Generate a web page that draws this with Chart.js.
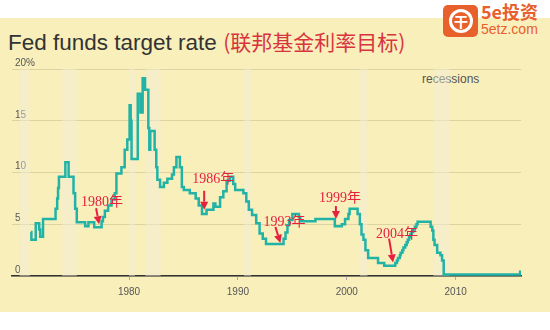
<!DOCTYPE html>
<html>
<head>
<meta charset="utf-8">
<script src="https://cdn.jsdelivr.net/npm/chart.js@4.4.1/dist/chart.umd.min.js"></script>
<style>
  html, body { margin: 0; padding: 0; background: #fff; }
  #wrap { position: relative; width: 550px; height: 330px; overflow: hidden; }
  #panel { position: absolute; left: 0; top: 18px; width: 550px; height: 294px; background: #f8efbb; }
  #title { position: absolute; left: 8px; top: 31px; font-family: "Liberation Sans", Arial, sans-serif; font-size: 22.5px; color: #333; white-space: nowrap; line-height: 1; }
  #title span { font-family: "Noto Sans CJK SC", sans-serif; font-size: 21px; color: #d8343f; }
  #recess { position: absolute; left: 422px; top: 72px; font-family: "Liberation Sans", Arial, sans-serif; font-size: 12px; color: #555; }
  #logo { position: absolute; left: 443px; top: 5px; width: 35px; height: 32px; background: #e8602c; border-radius: 5px; }
  #logo div { position: absolute; left: 6px; top: 4px; width: 18px; height: 18px; border: 3px solid #fff; border-radius: 50%;
    color: #fff; font: bold 14px "Noto Sans CJK SC", sans-serif; text-align: center; line-height: 18px; }
  #brand1 { position: absolute; left: 481px; top: 1px; font: bold 18px "Noto Sans CJK SC", sans-serif; color: #e8602c; line-height: 21px; }
  #brand2 { position: absolute; left: 481px; top: 21px; font: 14px "Liberation Sans", Arial, sans-serif; color: #e8602c; line-height: 16px; }
  canvas { position: absolute; left: 0; top: 0; }
</style>
</head>
<body>
<div id="wrap">
  <div id="panel"></div>
  <div id="title">Fed funds target rate <span>(联邦基金利率目标)</span></div>
  <div id="recess">recessions</div>
  <div id="logo"><div>干</div></div>
  <div id="brand1">5e投资</div>
  <div id="brand2">5etz.com</div>
  <canvas id="chart" width="550" height="330"></canvas>
</div>
<script>
// fed funds rate (year as decimal, percent)
const years = [
  1970.98, 1971.03, 1971.43, 1971.75, 1971.84, 1972.1, 1973.25, 1973.4, 1973.48, 1973.56,
  1974.15, 1974.45, 1974.9, 1975.05, 1975.2, 1975.97, 1976.27, 1976.8, 1977.48, 1977.6,
  1977.78, 1978.08, 1978.39, 1978.69, 1978.84, 1979.3, 1979.6, 1979.84,
  1980.05, 1980.15, 1980.23, 1980.8, 1981.04, 1981.25, 1981.47, 1981.77, 1981.86, 1981.95,
  1982.35, 1982.5, 1982.6, 1982.85, 1983.2, 1983.52, 1983.95, 1984.12, 1984.35, 1984.67,
  1984.85, 1985.03, 1985.58, 1986.12, 1986.4, 1986.7, 1987.12, 1987.75, 1987.93, 1988.36,
  1988.66, 1988.96, 1989.27, 1989.57, 1989.75,
  1990.5, 1990.77, 1991.0, 1991.3, 1991.68, 1991.99, 1992.28, 1992.58, 1994.19, 1994.37,
  1994.55, 1994.7, 1995.0, 1995.6, 1995.73, 1997.12, 1998.9, 1999.54, 1999.84,
  2000.15, 2000.26, 2000.99, 2001.2, 2001.35, 2001.53, 2001.71, 2001.96, 2002.87, 2003.44,
  2004.45, 2004.6, 2004.7, 2004.87, 2004.95, 2005.1, 2005.2, 2005.37, 2005.5, 2005.6,
  2005.72, 2005.83, 2005.95, 2006.1, 2006.25, 2006.4, 2006.5, 2007.7, 2007.85, 2007.95,
  2008.06, 2008.3, 2008.6, 2008.75, 2008.9, 2015.92, 2016.0
];
const rates = [
  4.25, 3.5, 5.1, 4.5, 3.8, 5.5, 6.5, 7.5, 8.5, 9.6,
  11.0, 9.6, 8.0, 6.5, 5.2, 4.8, 5.2, 4.7, 5.3, 5.7,
  6.3, 6.8, 7.4, 8.0, 9.9, 10.5, 12.2, 13.2,
  16.5, 15.0, 11.3, 17.6, 15.8, 19.1, 18.0, 14.3, 12.2, 14.0,
  12.2, 10.5, 9.3, 8.6, 9.0, 9.4, 9.8, 10.5, 11.5, 10.5,
  8.6, 8.3, 8.0, 7.5, 6.8, 6.0, 6.4, 7.0, 6.7, 7.6,
  8.2, 9.2, 9.6, 8.9, 8.3,
  8.0, 7.2, 6.4, 5.9, 5.1, 4.1, 3.6, 3.1, 3.6, 4.2,
  4.9, 5.4, 6.0, 5.7, 5.3, 5.5, 4.8, 5.0, 5.5,
  6.0, 6.5, 6.0, 5.0, 4.0, 3.5, 2.5, 1.75, 1.25, 1.0,
  1.25, 1.5, 1.75, 2.0, 2.25, 2.5, 2.75, 3.0, 3.25, 3.5,
  3.75, 4.0, 4.25, 4.5, 4.75, 5.0, 5.25, 4.75, 4.4, 3.5,
  3.0, 2.25, 2.0, 1.5, 0.15, 0.4, 0.4
];

const xTicks = [1980, 1990, 2000, 2010];
const yTicks = [0, 5, 10, 15, 20];

// recession bands
const recessionStart = [1969.95, 1973.85, 1980.0, 1981.5, 1990.55, 2001.2, 2007.95];
const recessionEnd = [1970.9, 1975.2, 1980.55, 1982.9, 1991.2, 2001.9, 2009.45];

// red notes: label, and the point the arrow points at
const noteLabels = ['1980年', '1986年', '1993年', '1999年', '2004年'];
const noteYears = [1977.25, 1986.9, 1993.9, 1999.0, 2004.25];
const noteRates = [5.0, 6.4, 3.2, 5.5, 1.3];

const bandsPlugin = {
  id: 'bands',
  beforeDatasetsDraw(chart) {
    const { ctx, chartArea, scales } = chart;
    ctx.save();
    ctx.fillStyle = 'rgba(242,238,218,0.45)';
    for (let i = 0; i < recessionStart.length; i++) {
      const x0 = scales.x.getPixelForValue(recessionStart[i]);
      const x1 = scales.x.getPixelForValue(recessionEnd[i]);
      ctx.fillRect(x0, chartArea.top, x1 - x0, chartArea.bottom - chartArea.top);
    }
    ctx.restore();
  }
};

const notesPlugin = {
  id: 'notes',
  afterDatasetsDraw(chart, args, opts) {
    const { ctx, scales } = chart;
    ctx.save();
    noteLabels.forEach((label, i) => {
      const tx = scales.x.getPixelForValue(noteYears[i]);
      const ty = scales.y.getPixelForValue(noteRates[i]);
      const [lx, ly] = opts.text[i];
      const [sx, sy] = opts.tail[i];
      ctx.fillStyle = opts.color;
      ctx.font = '14px "Liberation Serif", "Noto Sans CJK SC", serif';
      ctx.textAlign = 'center';
      ctx.textBaseline = 'middle';
      ctx.fillText(label, tx + lx, ty + ly);
      // arrow
      const x0 = tx + sx, y0 = ty + sy;
      const ang = Math.atan2(ty - y0, tx - x0);
      const hl = 8, hw = 4;
      const bx = tx - Math.cos(ang) * hl, by = ty - Math.sin(ang) * hl;
      ctx.strokeStyle = opts.color;
      ctx.lineWidth = 2;
      ctx.beginPath();
      ctx.moveTo(x0, y0);
      ctx.lineTo(bx, by);
      ctx.stroke();
      ctx.beginPath();
      ctx.moveTo(tx, ty);
      ctx.lineTo(bx + Math.sin(ang) * hw, by - Math.cos(ang) * hw);
      ctx.lineTo(bx - Math.sin(ang) * hw, by + Math.cos(ang) * hw);
      ctx.closePath();
      ctx.fill();
    });
    ctx.restore();
  }
};

new Chart(document.getElementById('chart').getContext('2d'), {
  type: 'line',
  data: {
    datasets: [{
      data: years.map((y, i) => ({ x: y, y: rates[i] })),
      borderColor: '#22b3a6',
      borderWidth: 2.5,
      stepped: 'before',
      pointRadius: 0,
      fill: false
    }]
  },
  options: {
    responsive: false,
    animation: false,
    devicePixelRatio: 1,
    layout: { padding: { left: 6, right: 29, top: 69, bottom: 26 } },
    plugins: {
      legend: { display: false },
      tooltip: { enabled: false },
      notes: {
        color: '#e5213f',
        text: [[3, -22], [9, -30], [4, -21], [4, -21], [4, -28]],
        tail: [[-3, -16], [0, -19], [-5, -16], [0, -13], [-4, -24]]
      }
    },
    scales: {
      x: {
        type: 'linear',
        min: 1969.25,
        max: 2016,
        border: { color: '#333', width: 1.5 },
        grid: { drawOnChartArea: false, drawTicks: true, tickLength: 4, color: '#aaa' },
        afterBuildTicks: s => { s.ticks = xTicks.map(v => ({ value: v })); },
        ticks: {
          autoSkip: false, maxRotation: 0, padding: 6,
          color: '#555', font: { family: '"Liberation Sans", Arial', size: 10 },
          callback: v => String(v)
        }
      },
      y: {
        min: 0,
        max: 20,
        border: { display: false },
        grid: { color: '#ddd3a2', drawTicks: false },
        afterBuildTicks: s => { s.ticks = yTicks.map(v => ({ value: v })); },
        ticks: {
          mirror: true, padding: 3, labelOffset: -6,
          color: '#555', font: { family: '"Liberation Sans", Arial', size: 10 },
          callback: v => v === 20 ? '20%' : String(v)
        }
      }
    }
  },
  plugins: [bandsPlugin, notesPlugin]
});
</script>
</body>
</html>
